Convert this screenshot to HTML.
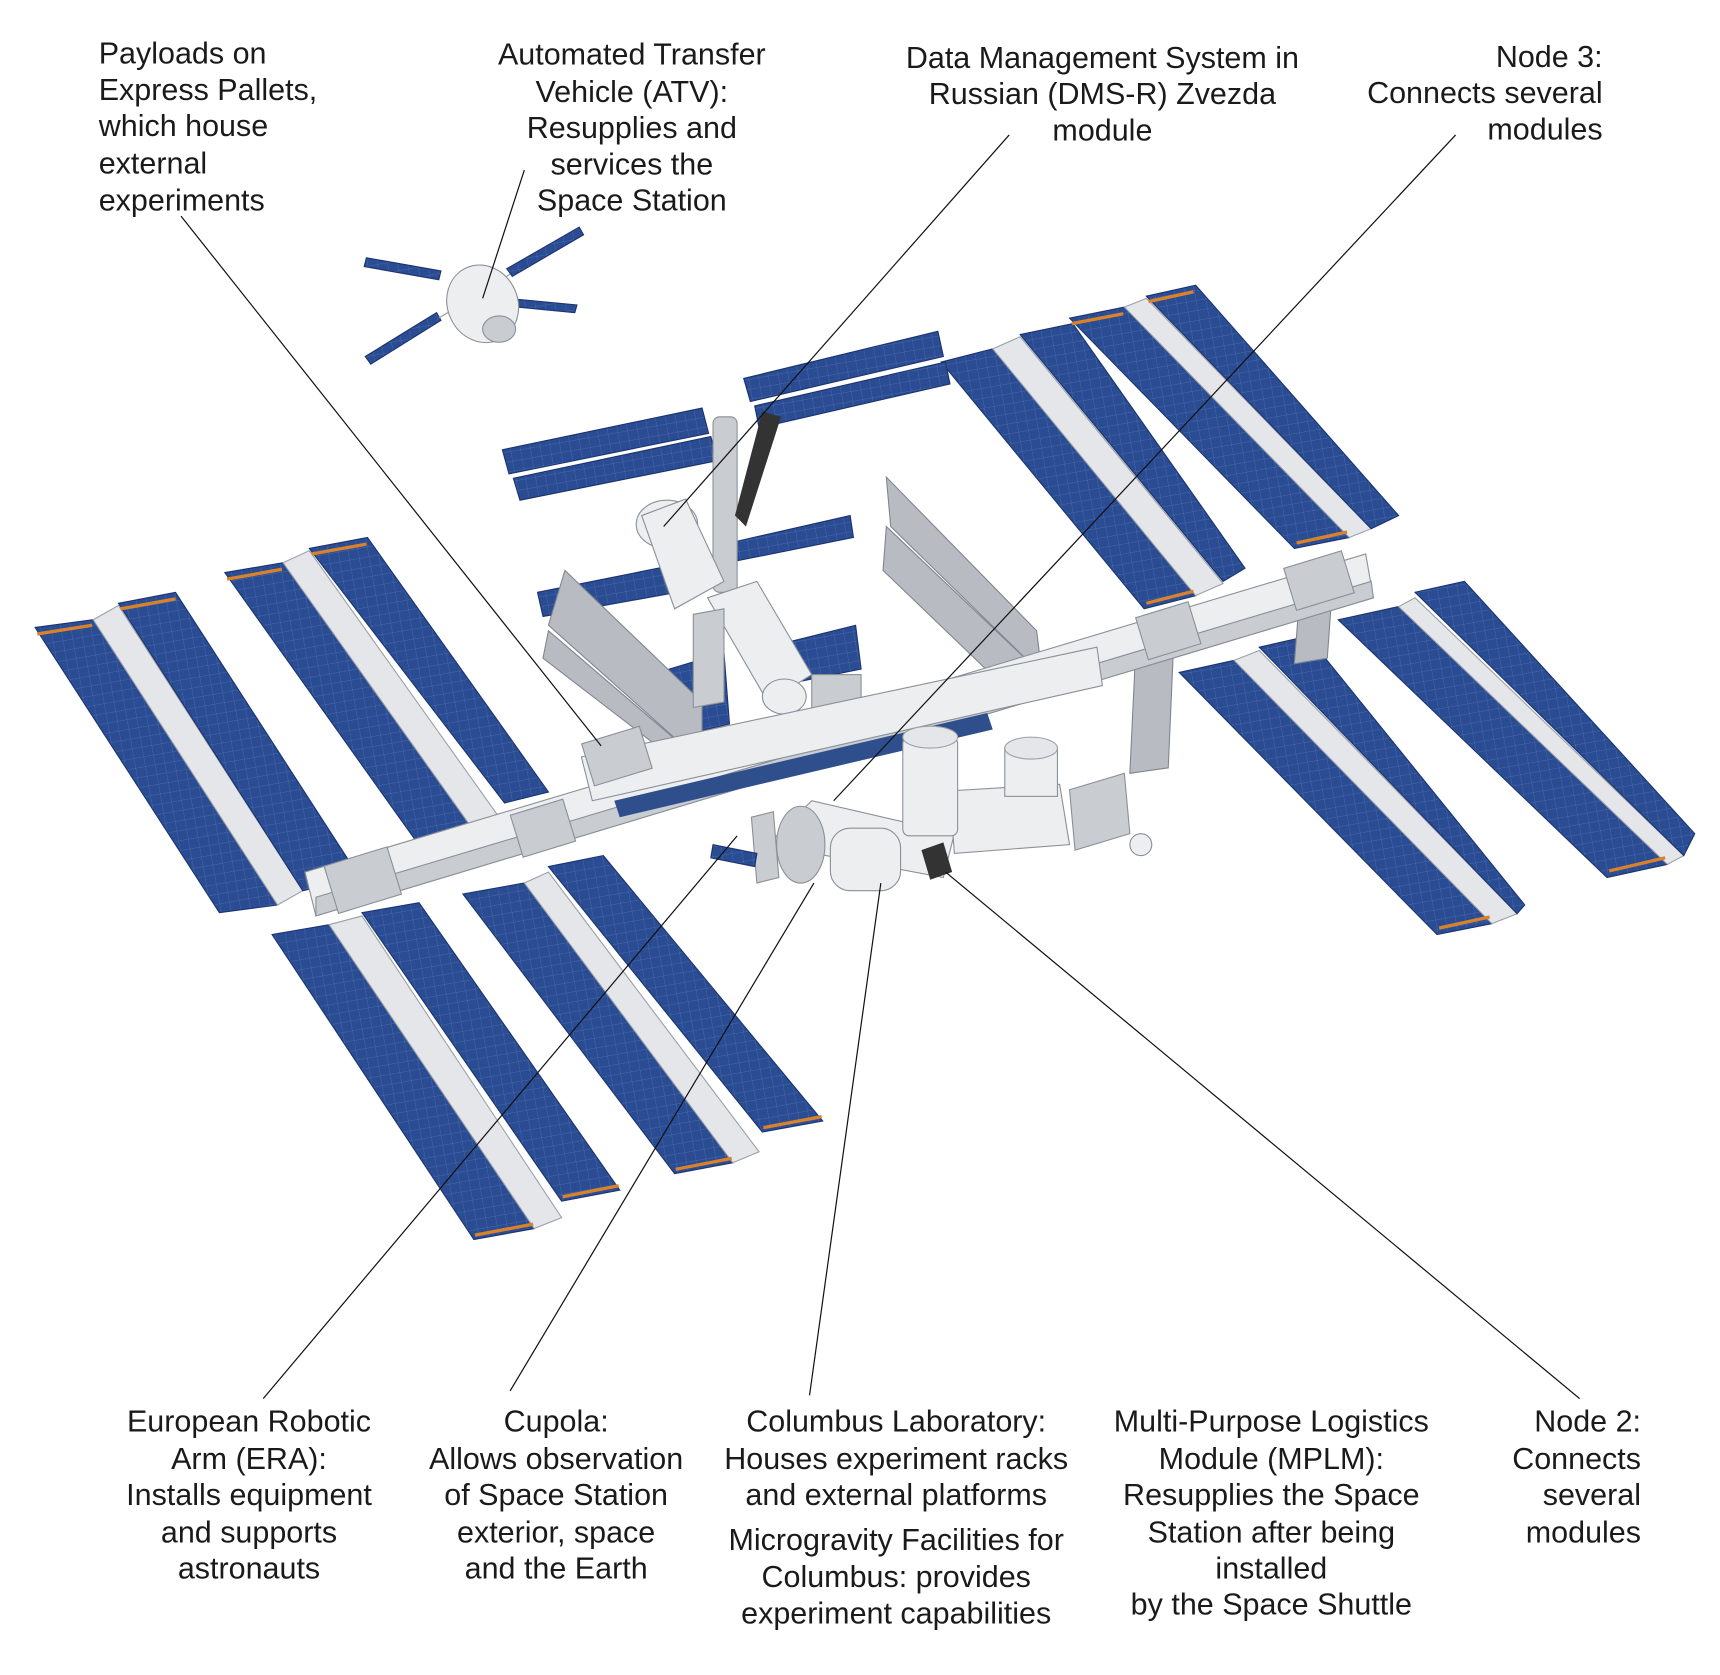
<!DOCTYPE html>
<html><head><meta charset="utf-8"><style>
html,body{margin:0;padding:0;background:#fff;}
svg{display:block;}
text{font-family:"Liberation Sans",Arial,sans-serif;font-size:27.8px;fill:#1a1a1a;}
.p{fill:#2a4c93;stroke:#1b3370;stroke-width:1;}
.m{fill:#e4e6ea;stroke:#9aa0a8;stroke-width:1;}
.g{fill:#c9ccd1;stroke:#8a9098;stroke-width:1;}
.w{fill:#eceef0;stroke:#8a9098;stroke-width:1;}
.r{fill:#b8bcc2;stroke:#80868e;stroke-width:1;}
.l{stroke:#111;stroke-width:1.1;fill:none;}
.o{stroke:#d9822b;stroke-width:3;}
</style></head><body>
<svg width="1720" height="1675" viewBox="0 0 1568 1527" preserveAspectRatio="none" xmlns="http://www.w3.org/2000/svg">
<defs>
<pattern id="grid" width="9" height="9" patternUnits="userSpaceOnUse" patternTransform="rotate(-10)">
<rect width="9" height="9" fill="#2a4c93"/>
<path d="M0 0H9M0 0V9" stroke="#5673b0" stroke-width="0.6"/>
</pattern>
</defs>
<style>.p{fill:url(#grid);}</style>

<!-- Left arrays L1 -->
<polygon class="p" points="32,572 85,565 253,825 200,832"/>
<polygon class="m" points="85,565 108,552 276,812 253,825"/>
<polygon class="p" points="108,550 160,540 328,800 276,812"/>
<line class="o" x1="34" y1="578" x2="84" y2="570"/><line class="o" x1="110" y1="555" x2="160" y2="546"/>
<!-- L2 -->
<polygon class="p" points="205,522 258,513 436,763 383,772"/>
<polygon class="m" points="258,513 282,502 460,752 436,763"/>
<polygon class="p" points="282,500 335,490 500,722 460,732"/>
<line class="o" x1="207" y1="528" x2="257" y2="519"/><line class="o" x1="284" y1="505" x2="334" y2="496"/>
<!-- L3 -->
<polygon class="p" points="248,852 300,843 487,1120 432,1130"/>
<polygon class="m" points="300,843 330,835 512,1110 487,1120"/>
<polygon class="p" points="330,832 382,823 565,1085 512,1095"/>
<line class="o" x1="433" y1="1126" x2="486" y2="1116"/><line class="o" x1="513" y1="1091" x2="564" y2="1081"/>
<!-- L4 -->
<polygon class="p" points="422,815 478,805 668,1060 615,1070"/>
<polygon class="m" points="478,805 500,795 692,1050 668,1060"/>
<polygon class="p" points="500,790 550,780 750,1022 695,1032"/>
<line class="o" x1="616" y1="1066" x2="667" y2="1056"/><line class="o" x1="696" y1="1028" x2="749" y2="1018"/>

<!-- Right arrays R1 -->
<polygon class="p" points="858,330 905,318 1090,543 1043,555"/>
<polygon class="m" points="905,318 930,307 1115,532 1090,543"/>
<polygon class="p" points="930,305 978,295 1135,518 1115,530"/>
<line class="o" x1="1045" y1="550" x2="1088" y2="539"/>
<!-- R2 -->
<polygon class="p" points="975,290 1025,280 1230,490 1180,500"/>
<polygon class="m" points="1025,280 1045,272 1250,482 1230,490"/>
<polygon class="p" points="1045,270 1090,260 1275,470 1250,482"/>
<line class="o" x1="977" y1="295" x2="1024" y2="286"/><line class="o" x1="1047" y1="275" x2="1088" y2="266"/>
<line class="o" x1="1182" y1="495" x2="1228" y2="485"/>
<!-- R3 -->
<polygon class="p" points="1075,613 1125,602 1360,842 1310,852"/>
<polygon class="m" points="1125,602 1148,593 1383,833 1360,842"/>
<polygon class="p" points="1148,590 1192,580 1390,825 1383,833"/>
<line class="o" x1="1312" y1="846" x2="1358" y2="836"/>
<!-- R4 -->
<polygon class="p" points="1220,565 1275,553 1520,788 1465,800"/>
<polygon class="m" points="1275,553 1290,545 1535,780 1520,788"/>
<polygon class="p" points="1290,540 1335,530 1545,760 1535,780"/>
<line class="o" x1="1467" y1="794" x2="1518" y2="782"/>

<!-- Russian arrays -->
<polygon class="p" points="458,410 640,372 646,395 464,432"/>
<polygon class="p" points="468,436 648,398 654,420 474,456"/>
<polygon class="p" points="678,345 855,302 860,325 684,366"/>
<polygon class="p" points="688,370 862,330 866,350 692,390"/>
<polygon class="p" points="665,495 775,470 778,490 668,512"/>
<polygon class="p" points="490,540 640,510 645,535 495,562"/>
<polygon class="p" points="720,585 780,570 785,610 725,622"/>
<polygon class="p" points="610,610 660,595 665,660 615,672"/>
<!-- grey radiators -->
<polygon class="r" points="808,435 945,575 950,615 812,480"/>
<polygon class="r" points="808,480 950,615 930,640 805,520"/>
<polygon class="r" points="515,520 640,640 640,695 500,570"/>
<polygon class="r" points="500,575 640,695 625,700 495,600"/>
<polygon class="r" points="1035,600 1070,585 1065,700 1030,705"/>
<polygon class="r" points="1185,540 1215,530 1210,600 1180,605"/>
<!-- Russian modules -->
<rect class="g" x="650" y="380" width="22" height="160" rx="6"/>
<polygon fill="#333" points="695,375 712,380 680,480 670,470"/>
<ellipse class="w" cx="608" cy="478" rx="28" ry="22"/>
<polygon class="w" points="585,470 625,455 660,530 615,555"/>
<polygon class="w" points="645,545 690,530 740,615 700,640"/>
<ellipse class="w" cx="715" cy="635" rx="20" ry="16"/>
<polygon class="g" points="632,560 660,555 660,640 632,645"/>
<rect class="g" x="740" y="615" width="45" height="50"/>

<!-- Truss -->
<polygon class="w" points="278,795 1245,505 1252,545 288,835"/>
<polygon class="g" points="288,818 1250,530 1252,545 288,835"/>
<polygon class="w" points="530,690 1000,590 1005,625 540,730"/>
<polygon fill="#2f4e8c" points="560,730 900,650 905,665 565,745"/>
<rect class="g" x="300" y="780" width="60" height="45" transform="rotate(-17 330 800)"/>
<rect class="g" x="470" y="735" width="50" height="40" transform="rotate(-17 495 755)"/>
<rect class="g" x="1040" y="555" width="50" height="40" transform="rotate(-17 1065 575)"/>
<rect class="g" x="1175" y="510" width="55" height="40" transform="rotate(-17 1200 530)"/>
<rect class="g" x="535" y="670" width="55" height="40" transform="rotate(-17 560 690)"/>

<!-- Lab modules -->
<polygon class="w" points="700,770 740,730 870,760 860,800"/>
<ellipse class="g" cx="730" cy="770" rx="22" ry="35"/>
<polygon class="w" points="866,721 966,715 975,770 870,778"/>
<rect class="w" x="823" y="672" width="50" height="90" rx="6"/>
<ellipse class="m" cx="848" cy="672" rx="25" ry="10"/>
<rect class="w" x="916" y="682" width="48" height="44"/>
<ellipse class="m" cx="940" cy="682" rx="24" ry="10"/>
<rect class="w" x="757" y="755" width="64" height="57" rx="18"/>
<polygon fill="#333" points="840,775 860,768 868,795 848,802"/>
<polygon class="g" points="975,720 1025,705 1030,760 980,775"/>
<ellipse class="w" cx="1040" cy="770" rx="10" ry="10"/>
<polygon class="g" points="685,745 705,740 710,800 690,805"/>
<polygon class="p" points="650,770 690,778 688,790 648,782"/>

<!-- ATV -->
<polygon class="p" points="334,235 402,247 400,255 332,243"/>
<polygon class="p" points="333,325 398,285 402,292 338,332"/>
<polygon class="p" points="462,245 528,207 532,214 467,252"/>
<polygon class="p" points="462,272 526,278 524,285 461,279"/>
<line stroke="#999" x1="400" y1="290" x2="465" y2="250"/>
<ellipse class="w" cx="440" cy="277" rx="32" ry="36" transform="rotate(-25 440 277)"/>
<ellipse class="g" cx="455" cy="300" rx="15" ry="12"/>

<!-- Leader lines -->
<line class="l" x1="165" y1="197" x2="548" y2="680"/>
<line class="l" x1="478" y1="155" x2="440" y2="272"/>
<line class="l" x1="920" y1="123" x2="605" y2="480"/>
<line class="l" x1="1327" y1="123" x2="760" y2="730"/>
<line class="l" x1="240" y1="1275" x2="672" y2="762"/>
<line class="l" x1="465" y1="1268" x2="742" y2="805"/>
<line class="l" x1="738" y1="1272" x2="803" y2="805"/>
<line class="l" x1="1440" y1="1275" x2="862" y2="795"/>

<!-- Labels -->
<text x="90" y="58">Payloads on</text>
<text x="90" y="91">Express Pallets,</text>
<text x="90" y="124">which house</text>
<text x="90" y="158">external</text>
<text x="90" y="192">experiments</text>

<g text-anchor="middle">
<text x="576" y="59">Automated Transfer</text>
<text x="576" y="93">Vehicle (ATV):</text>
<text x="576" y="126">Resupplies and</text>
<text x="576" y="159">services the</text>
<text x="576" y="192">Space Station</text>

<text x="1005" y="62">Data Management System in</text>
<text x="1005" y="95">Russian (DMS-R) Zvezda</text>
<text x="1005" y="128">module</text>

<text x="227" y="1305">European Robotic</text>
<text x="227" y="1339">Arm (ERA):</text>
<text x="227" y="1372">Installs equipment</text>
<text x="227" y="1406">and supports</text>
<text x="227" y="1439">astronauts</text>

<text x="507" y="1305">Cupola:</text>
<text x="507" y="1339">Allows observation</text>
<text x="507" y="1372">of Space Station</text>
<text x="507" y="1406">exterior, space</text>
<text x="507" y="1439">and the Earth</text>

<text x="817" y="1305">Columbus Laboratory:</text>
<text x="817" y="1339">Houses experiment racks</text>
<text x="817" y="1372">and external platforms</text>
<text x="817" y="1413">Microgravity Facilities for</text>
<text x="817" y="1447">Columbus: provides</text>
<text x="817" y="1480">experiment capabilities</text>

<text x="1159" y="1305">Multi-Purpose Logistics</text>
<text x="1159" y="1339">Module (MPLM):</text>
<text x="1159" y="1372">Resupplies the Space</text>
<text x="1159" y="1406">Station after being</text>
<text x="1159" y="1439">installed</text>
<text x="1159" y="1472">by the Space Shuttle</text>
</g>

<g text-anchor="end">
<text x="1461" y="61">Node 3:</text>
<text x="1461" y="94">Connects several</text>
<text x="1461" y="127">modules</text>

<text x="1496" y="1305">Node 2:</text>
<text x="1496" y="1339">Connects</text>
<text x="1496" y="1372">several</text>
<text x="1496" y="1406">modules</text>
</g>
</svg>
</body></html>
